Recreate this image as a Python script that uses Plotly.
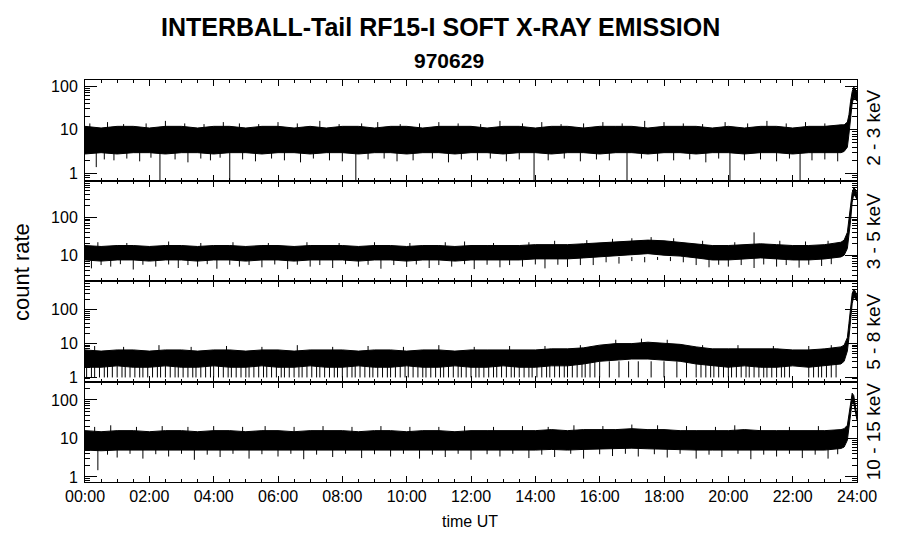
import plotly.graph_objects as go

# ---------------- data ----------------
t_env = [0.0, 0.5, 1.0, 1.5, 2.0, 2.5, 3.0, 3.5, 4.0, 4.5, 5.0, 5.5, 6.0, 6.5, 7.0, 7.5,
         8.0, 8.5, 9.0, 9.5, 10.0, 10.5, 11.0, 11.5, 12.0, 12.5, 13.0, 13.5, 14.0, 14.5,
         15.0, 15.5, 16.0, 16.5, 17.0, 17.5, 18.0, 18.5, 19.0, 19.5, 20.0, 20.5, 21.0,
         21.5, 22.0, 22.5, 23.0, 23.5, 23.6, 23.7, 23.75, 23.8, 23.85, 23.9, 23.95, 24.0]

# 2 - 3 keV
hi1 = [12, 11, 12, 12, 11, 12, 12, 11, 12, 12, 11, 12, 12, 11, 12, 11,
       12, 12, 11, 12, 12, 11, 12, 12, 12, 11, 12, 12, 11, 12,
       12, 11, 12, 12, 12, 11, 12, 12, 12, 11, 12, 11, 12,
       12, 11, 12, 12, 13, 13, 15, 22, 45, 75, 95, 85, 75]
lo1 = [2.8, 3.0, 2.8, 3.0, 3.0, 2.8, 3.0, 3.0, 2.8, 3.0, 3.0, 2.8, 3.0, 3.0, 2.8, 3.0,
       3.0, 2.8, 3.0, 3.0, 2.8, 3.0, 3.0, 2.8, 3.0, 3.0, 2.8, 3.0, 3.0, 2.8,
       3.0, 3.0, 2.8, 3.0, 3.0, 2.8, 3.0, 3.0, 2.8, 3.0, 3.0, 2.8, 3.0,
       3.0, 2.8, 3.0, 3.0, 3.0, 3.2, 4.0, 8, 20, 40, 55, 50, 45]
dn1_t = [0.35, 0.6, 0.9, 1.3, 1.7, 2.05, 2.33, 2.8, 3.2, 3.6, 3.9, 4.2, 4.5, 4.9, 5.3,
         5.8, 6.2, 6.7, 7.1, 7.6, 8.0, 8.42, 8.8, 9.3, 9.7, 10.2, 10.8, 11.3, 11.7,
         12.2, 12.6, 13.1, 13.5, 13.96, 14.4, 14.9, 15.4, 15.9, 16.3, 16.85, 17.3,
         17.8, 18.3, 18.8, 19.3, 19.7, 20.05, 20.5, 21.0, 21.5, 21.9, 22.23, 22.6,
         23.0, 23.4]
dn1_v = [1.4, 2.1, 2.0, 2.2, 1.9, 2.3, 0.5, 2.1, 1.8, 2.2, 2.0, 2.3, 0.5, 2.1, 1.9,
         2.2, 2.0, 1.8, 2.2, 2.0, 1.9, 0.5, 2.1, 2.2, 1.9, 2.0, 2.2, 1.8, 2.1,
         2.0, 2.2, 1.9, 2.1, 0.5, 2.0, 2.2, 1.9, 2.1, 2.0, 0.5, 2.2,
         1.9, 2.0, 2.1, 1.8, 2.2, 0.5, 2.0, 2.1, 1.9, 2.2, 0.5, 2.0,
         2.1, 1.9]
up1_t = [0.15, 0.7, 1.2, 1.9, 2.5, 3.1, 3.7, 4.3, 4.8, 5.4, 6.0, 6.6, 7.3, 7.9, 8.6,
         9.1, 9.8, 10.4, 11.0, 11.6, 12.3, 12.9, 13.6, 14.2, 14.8, 15.5, 16.1, 16.7,
         17.4, 18.0, 18.6, 19.2, 19.9, 20.6, 21.2, 21.8, 22.4, 23.0]
up1_v = [14, 15, 13.5, 14, 16, 14, 13.5, 15, 14, 13.5, 15, 14, 16, 13.5, 14,
         15, 13.5, 14, 15, 14, 13.5, 16, 14, 15, 13.5, 14, 15, 14,
         16, 15, 14, 13.5, 15, 14, 16, 14, 15, 14]

# 3 - 5 keV
hi2 = [18, 17, 18, 18, 17, 18, 18, 17, 18, 18, 17, 18, 18, 17, 18, 18,
       18, 17, 18, 18, 17, 18, 18, 17, 18, 18, 18, 18, 19, 19,
       19, 20, 21, 22, 23, 25, 24, 22, 20, 18, 18, 19, 20,
       19, 18, 18, 19, 22, 25, 40, 80, 200, 450, 600, 550, 420]
lo2 = [7.5, 7.0, 7.5, 7.5, 7.0, 7.5, 7.5, 7.0, 7.5, 7.5, 7.0, 7.5, 7.5, 7.0, 7.5, 7.5,
       7.5, 7.0, 7.5, 7.5, 7.0, 7.5, 7.5, 7.0, 7.5, 7.5, 7.5, 7.5, 8.0, 8.0,
       8.0, 8.5, 9.0, 9.5, 10, 11, 10, 9.5, 8.5, 7.5, 7.5, 8.0, 8.5,
       8.0, 7.5, 7.5, 8.0, 9.0, 10, 15, 30, 80, 250, 400, 350, 300]
dn2_t = [0.2, 0.5, 0.8, 1.1, 1.5, 1.8, 2.2, 2.6, 2.9, 3.2, 3.5, 3.8, 4.1, 4.5, 4.8,
         5.1, 5.5, 5.9, 6.3, 6.6, 7.0, 7.3, 7.7, 8.1, 8.5, 8.8, 9.2, 9.6, 10.0,
         10.3, 10.7, 11.0, 11.4, 11.8, 12.1, 12.5, 12.9, 13.2, 13.6, 14.0, 14.3,
         14.7, 15.0, 15.4, 15.8, 16.2, 16.6, 17.0, 17.4, 17.8, 18.2, 18.6, 19.0,
         19.4, 19.7, 20.0, 20.4, 20.8, 21.1, 21.5, 21.8, 22.2, 22.5, 22.9, 23.2]
dn2_v = [4.5, 5.5, 5.0, 5.8, 4.2, 5.6, 5.0, 5.7, 4.6, 5.5, 5.0, 5.8, 4.4, 5.6, 5.0,
         5.5, 4.8, 5.7, 4.3, 5.6, 5.0, 5.5, 4.6, 5.8, 5.0, 5.6, 4.4, 5.5, 4.9,
         5.7, 4.6, 5.5, 5.0, 5.8, 4.3, 5.6, 4.8, 5.5, 5.0, 5.7, 4.5,
         5.6, 4.9, 5.5, 5.5, 6.5, 6.0, 7.0, 6.5, 7.5, 7.0, 6.5, 5.5,
         4.8, 5.6, 5.0, 5.5, 4.6, 5.7, 5.0, 5.5, 4.7, 5.6, 5.2, 5.8]
up2_t = [0.4, 1.3, 2.6, 3.6, 4.6, 5.7, 6.9, 7.9, 9.0, 10.1, 11.2, 11.8, 12.7, 13.8,
         14.6, 15.6, 16.4, 17.0, 17.6, 18.3, 19.2, 20.2, 20.8, 21.6, 22.4, 23.1]
up2_v = [22, 21, 23, 21, 22, 21, 22, 21, 22, 21, 22, 23, 21, 22,
         24, 25, 27, 28, 30, 28, 24, 22, 40, 24, 23, 24]

# 5 - 8 keV
hi3 = [6.5, 6.0, 6.5, 6.5, 6.0, 6.5, 6.5, 6.0, 6.5, 6.5, 6.0, 6.5, 6.5, 6.0, 6.5, 6.5,
       6.5, 6.0, 6.5, 6.5, 6.0, 6.5, 6.5, 6.0, 6.5, 6.5, 6.5, 6.5, 6.5, 7.0,
       7.0, 7.5, 9.0, 10, 10, 11, 10, 9.5, 8.0, 7.0, 7.0, 7.0, 7.0,
       7.0, 6.5, 6.5, 7.0, 8.0, 9.0, 15, 40, 120, 300, 400, 350, 250]
lo3 = [2.0, 2.0, 2.2, 2.0, 2.0, 2.2, 2.0, 2.0, 2.2, 2.0, 2.0, 2.2, 2.0, 2.0, 2.2, 2.0,
       2.0, 2.2, 2.0, 2.0, 2.2, 2.0, 2.0, 2.2, 2.0, 2.0, 2.2, 2.0, 2.0, 2.2,
       2.2, 2.5, 3.0, 3.2, 3.5, 3.5, 3.2, 3.0, 2.5, 2.2, 2.0, 2.2, 2.0,
       2.0, 2.2, 2.0, 2.2, 2.5, 3.0, 6.0, 15, 50, 150, 250, 220, 180]
dn3_t = [0.05, 0.2, 0.3, 0.45, 0.6, 0.7, 0.85, 1.0, 1.15, 1.25, 1.4, 1.55, 1.7, 1.8,
         1.95, 2.1, 2.25, 2.35, 2.5, 2.65, 2.8, 2.9, 3.05, 3.2, 3.35, 3.45, 3.6, 3.75,
         3.9, 4.0, 4.15, 4.3, 4.45, 4.55, 4.7, 4.85, 5.0, 5.1, 5.25, 5.4, 5.55, 5.65,
         5.8, 5.95, 6.1, 6.2, 6.35, 6.5, 6.65, 6.75, 6.9, 7.05, 7.2, 7.3, 7.45, 7.6,
         7.75, 7.85, 8.0, 8.15, 8.3, 8.4, 8.55, 8.7, 8.85, 8.95, 9.1, 9.25, 9.4, 9.5,
         9.65, 9.8, 9.95, 10.05, 10.2, 10.35, 10.5, 10.6, 10.75, 10.9, 11.05, 11.15,
         11.3, 11.45, 11.6, 11.7, 11.85, 12.0, 12.15, 12.25, 12.4, 12.55, 12.7, 12.8,
         12.95, 13.1, 13.25, 13.35, 13.5, 13.65, 13.8, 13.9, 14.05, 14.2, 14.35,
         14.45, 14.6, 14.75, 14.9, 15.0, 15.15, 15.3, 15.45, 15.55, 15.7, 15.85,
         16.0, 16.3, 16.6, 16.9, 17.2, 17.6, 18.0, 18.4, 18.7, 19.0, 19.15, 19.3,
         19.45, 19.55, 19.7, 19.85, 20.0, 20.1, 20.25, 20.4, 20.55, 20.65, 20.8,
         20.95, 21.1, 21.2, 21.35, 21.5, 21.65, 21.75, 21.9, 22.5, 22.65, 22.8,
         22.9, 23.05, 23.2, 23.35]
dn3_v = [1, 1, 1, 1, 1, 1, 1, 1, 1, 1, 1, 1, 1, 1,
         1, 1, 1, 1, 1, 1, 1, 1, 1, 1, 1, 1, 1, 1,
         1, 1, 1, 1, 1, 1, 1, 1, 1, 1, 1, 1, 1, 1,
         1, 1, 1, 1, 1, 1, 1, 1, 1, 1, 1, 1, 1, 1,
         1, 1, 1, 1, 1, 1, 1, 1, 1, 1, 1, 1, 1, 1,
         1, 1, 1, 1, 1, 1, 1, 1, 1, 1, 1, 1,
         1, 1, 1, 1, 1, 1, 1, 1, 1, 1, 1, 1,
         1, 1, 1, 1, 1, 1, 1, 1, 1, 1, 1,
         1, 1, 1, 1, 1, 1, 1, 1, 1, 1, 1,
         1, 1, 1, 1, 1, 1, 1, 1, 1, 1, 1, 1,
         1, 1, 1, 1, 1, 1, 1, 1, 1, 1, 1,
         1, 1, 1, 1, 1, 1, 1, 1, 1, 1, 1,
         1, 1, 1, 1]
up3_t = [0.3, 1.2, 2.3, 3.3, 4.4, 5.5, 6.6, 7.7, 8.8, 9.9, 11.0, 12.1, 13.2, 14.3,
         15.4, 16.5, 17.3, 18.1, 19.2, 20.3, 21.4, 22.5, 23.2]
up3_v = [8.5, 8, 9, 8, 8.5, 8, 9, 8, 8.5, 8, 9, 8, 8.5, 8.5,
         9, 13, 14, 13, 9, 9, 8.5, 8.5, 9]

# 10 - 15 keV
hi4 = [16, 15, 16, 16, 15, 16, 16, 15, 16, 16, 15, 16, 16, 15, 16, 16,
       16, 15, 16, 16, 15, 16, 16, 15, 16, 16, 16, 16, 16, 17,
       16, 17, 17, 17, 18, 17, 17, 16, 16, 16, 16, 17, 16,
       16, 16, 16, 16, 17, 18, 22, 45, 100, 150, 130, 70, 38]
lo4 = [5.0, 4.8, 5.0, 5.0, 4.8, 5.0, 5.0, 4.8, 5.0, 5.0, 4.8, 5.0, 5.0, 4.8, 5.0, 5.0,
       5.0, 4.8, 5.0, 5.0, 4.8, 5.0, 5.0, 4.8, 5.0, 5.0, 5.0, 5.0, 5.0, 5.2,
       5.0, 5.2, 5.4, 5.4, 5.6, 5.4, 5.2, 5.0, 5.0, 5.0, 5.0, 5.2, 5.0,
       5.0, 5.0, 5.0, 5.0, 5.5, 6.0, 9.0, 20, 50, 90, 80, 45, 30]
dn4_t = [0.4, 0.7, 1.0, 1.4, 1.8, 2.2, 2.6, 3.0, 3.4, 3.8, 4.2, 4.6, 5.1, 5.5, 6.0,
         6.4, 6.8, 7.2, 7.7, 8.1, 8.6, 9.0, 9.5, 9.9, 10.4, 10.8, 11.2, 11.6,
         12.0, 12.5, 12.9, 13.3, 13.8, 14.2, 14.6, 15.1, 15.5, 16.0, 16.4, 16.8,
         17.2, 17.7, 18.1, 18.5, 19.0, 19.4, 19.8, 20.3, 20.7, 21.1, 21.5, 21.9,
         22.3, 22.7, 23.1, 23.4]
dn4_v = [1.5, 3.8, 3.2, 4.0, 3.0, 3.9, 3.4, 4.0, 2.8, 3.8, 3.3, 4.0, 3.0, 3.9, 3.4,
         4.0, 2.9, 3.8, 3.3, 4.0, 3.1, 3.9, 3.4, 4.0, 3.0, 3.8, 3.3, 4.0,
         2.8, 3.9, 3.4, 4.0, 3.1, 3.8, 3.3, 4.0, 3.0, 3.9, 3.5, 4.0,
         3.4, 3.9, 3.2, 4.0, 3.0, 3.8, 3.3, 4.0, 2.9, 3.8, 3.4, 4.0,
         3.1, 3.8, 3.0, 3.9]
up4_t = [0.3, 0.8, 1.6, 2.4, 3.2, 4.0, 4.9, 5.6, 6.5, 7.4, 8.3, 9.2, 10.1, 11.0,
         11.8, 12.7, 13.6, 14.4, 15.2, 16.1, 17.0, 17.8, 18.7, 19.6, 20.2, 21.0,
         21.9, 22.8]
up4_v = [20, 22, 20, 21, 20, 21, 20, 21, 20, 21, 20, 21, 20, 20,
         21, 20, 21, 20, 22, 21, 23, 22, 21, 20, 22, 21, 20, 21]

x_ticks = [0, 2, 4, 6, 8, 10, 12, 14, 16, 18, 20, 22, 24]
x_labels = ["00:00", "02:00", "04:00", "06:00", "08:00", "10:00", "12:00",
            "14:00", "16:00", "18:00", "20:00", "22:00", "24:00"]
y_ticks = [1, 10, 100]
y_labels = ["1", "10", "100"]
bands = ["2 - 3 keV", "3 - 5 keV", "5 - 8 keV", "10 - 15 keV"]

panels = [
    dict(hi=hi1, lo=lo1, dt=dn1_t, dv=dn1_v, db=4.0, ut=up1_t, uv=up1_v, ub=8.0, rng=[-0.16, 2.14]),
    dict(hi=hi2, lo=lo2, dt=dn2_t, dv=dn2_v, db=9.0, ut=up2_t, uv=up2_v, ub=14.0, rng=[0.32, 2.97]),
    dict(hi=hi3, lo=lo3, dt=dn3_t, dv=dn3_v, db=3.0, ut=up3_t, uv=up3_v, ub=5.0, rng=[-0.12, 2.85]),
    dict(hi=hi4, lo=lo4, dt=dn4_t, dv=dn4_v, db=8.0, ut=up4_t, uv=up4_v, ub=12.0, rng=[-0.13, 2.48]),
]

FONT = "Liberation Sans, Arial, Helvetica, sans-serif"
fig = go.Figure()


def seg(ts, vs, base):
    xs, ys = [], []
    for t, v in zip(ts, vs):
        xs += [t, t, None]
        ys += [base, v, None]
    return xs, ys


for i, p in enumerate(panels):
    xa = "x" if i == 0 else f"x{i+1}"
    ya = "y" if i == 0 else f"y{i+1}"
    common = dict(xaxis=xa, yaxis=ya, showlegend=False, hoverinfo="skip", mode="lines",
                  line=dict(color="black", width=1))
    fig.add_trace(go.Scatter(x=t_env, y=p["lo"], **common))
    fig.add_trace(go.Scatter(x=t_env, y=p["hi"], fill="tonexty", fillcolor="black", **common))
    sx, sy = seg(p["dt"], p["dv"], p["db"])
    fig.add_trace(go.Scatter(x=sx, y=sy, **common))
    ux, uy = seg(p["ut"], p["uv"], p["ub"])
    fig.add_trace(go.Scatter(x=ux, y=uy, **common))

W, H = 900, 548
left_px, right_px = 85, 857.5
top_px, bot_px = 80, 482
panel_h = (bot_px - top_px) / 4
layout = dict(
    width=W, height=H, paper_bgcolor="white", plot_bgcolor="white",
    margin=dict(l=left_px, r=W - right_px, t=top_px, b=H - bot_px, autoexpand=False),
    font=dict(family=FONT, color="black", size=16),
    showlegend=False,
)
for i in range(4):
    d0 = 1 - (i + 1) / 4
    d1 = 1 - i / 4
    xk = "xaxis" if i == 0 else f"xaxis{i+1}"
    yk = "yaxis" if i == 0 else f"yaxis{i+1}"
    layout[xk] = dict(
        domain=[0, 1], anchor="y" if i == 0 else f"y{i+1}", range=[0, 24],
        tickvals=x_ticks, ticktext=x_labels, showticklabels=(i == 3),
        ticks="inside", ticklen=6, tickwidth=1, tickcolor="black",
        minor=dict(dtick=0.5, ticks="inside", ticklen=3, tickwidth=1, tickcolor="black"),
        showline=True, linecolor="black", linewidth=1, mirror="ticks",
        showgrid=False, zeroline=False, tickfont=dict(size=16), automargin=False,
    )
    if i > 0:
        layout[xk]["matches"] = "x"
    layout[yk] = dict(
        domain=[d0, d1], anchor="x" if i == 0 else f"x{i+1}", type="log",
        range=panels[i]["rng"], tickvals=y_ticks, ticktext=y_labels,
        ticks="inside", ticklen=12, tickwidth=1, tickcolor="black",
        minor=dict(dtick="D1", ticks="inside", ticklen=5, tickwidth=1, tickcolor="black"),
        showline=True, linecolor="black", linewidth=1, mirror="ticks",
        showgrid=False, zeroline=False, tickfont=dict(size=16), ticklabelstandoff=3,
        automargin=False,
    )
fig.update_layout(**layout)


def page_to_paper(px, py):
    return (px - left_px) / (right_px - left_px), (bot_px - py) / (bot_px - top_px)


texts = [
    ("<b>INTERBALL-Tail RF15-I SOFT X-RAY EMISSION</b>", 441, 27, 25, 0),
    ("<b>970629</b>", 449, 60, 21, 0),
    ("count rate", 21, 272, 22, -90),
    ("time UT", 470, 521, 16, 0),
]
annotations = []
for text, px, py, size, ang in texts:
    x, y = page_to_paper(px, py)
    annotations.append(dict(text=text, x=x, y=y, xref="paper", yref="paper", showarrow=False,
                            xanchor="center", yanchor="middle", font=dict(size=size),
                            textangle=ang))
for i, b in enumerate(bands):
    cy = top_px + panel_h * (i + 0.5)
    if i == 0:
        cy -= 3
    x, y = page_to_paper(874, cy)
    annotations.append(dict(text=b, x=x, y=y, xref="paper", yref="paper", showarrow=False,
                            xanchor="center", yanchor="middle", textangle=-90,
                            font=dict(size=19)))
fig.update_layout(annotations=annotations)

fig.write_html("out.html", config={"displayModeBar": False},
               post_script="document.body.style.margin='0';")
